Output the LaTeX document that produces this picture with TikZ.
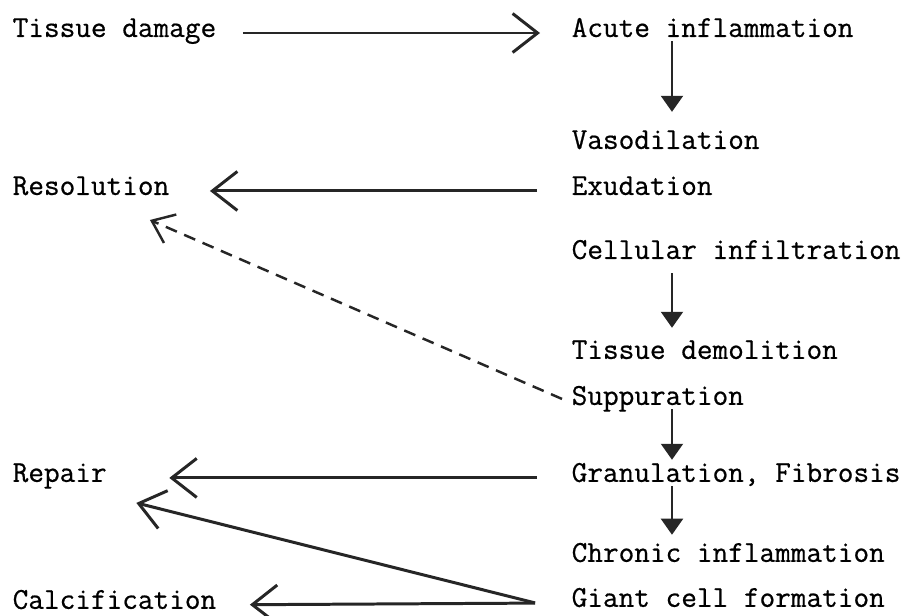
\documentclass[tikz,border=0pt]{standalone}
\usepackage{fontspec}
\usepackage{tikz}
\usetikzlibrary{positioning, arrows.meta}
\newfontfamily\typefont[FakeBold=0.6]{Latin Modern Mono}

\begin{document}
\begin{tikzpicture}[x=0.02cm, y=-0.02cm, thick, text=black,
    lbl/.style={inner sep=0pt, anchor=west, text height=0.65em, text depth=0.2em,
                font=\typefont\fontsize{17.3}{20}\selectfont},
    harrow/.style={line width=1.7pt, draw=black!85, -{Straight Barb[length=0.5cm, width=0.78cm, line width=1.7pt]}},
    varrow/.style={line width=1.2pt, draw=black!85, -{Triangle[length=0.32cm, width=0.44cm]}}]
        \useasboundingbox (0,0) rectangle (915,615);

        % Right column
        \node[lbl] (acute) at (571,33) {Acute inflammation};
        \node[lbl, below=2.24cm of acute.west, anchor=west] (vaso) {Vasodilation};
        \node[lbl, below=0.92cm of vaso.west, anchor=west] (exud) {Exudation};
        \node[lbl, below=1.28cm of exud.west, anchor=west] (cell) {Cellular infiltration};
        \node[lbl, below=2.0cm of cell.west, anchor=west] (demol) {Tissue demolition};
        \node[lbl, below=0.92cm of demol.west, anchor=west] (supp) {Suppuration};
        \node[lbl, below=1.54cm of supp.west, anchor=west] (gran) {Granulation, Fibrosis};
        \node[lbl, below=1.6cm of gran.west, anchor=west] (chronic) {Chronic inflammation};
        \node[lbl, below=0.9cm of chronic.west, anchor=west] (giant) {Giant cell formation};

        % Left column
        \node[lbl] (tissue) at (12,33) {Tissue damage};
        \node[lbl] (resol) at (exud.west -| tissue.west) {Resolution};
        \node[lbl] (repair) at (gran.west -| tissue.west) {Repair};
        \node[lbl, yshift=-0.04cm] (calc) at (giant.west -| tissue.west) {Calcification};

        % Horizontal arrows
        \draw[harrow, shorten <=0.52cm, shorten >=0.62cm] (tissue.east) -- (acute.west);
        \draw[harrow, shorten <=0.68cm, shorten >=0.8cm] (exud.west) -- (resol.east);
        \draw[harrow, shorten <=0.68cm, shorten >=1.24cm] (gran.west) -- (repair.east);
        \draw[harrow, shorten <=0.72cm, shorten >=0.66cm] (giant.west) -- (calc.east);
        \draw[harrow] ([xshift=-0.72cm]giant.west) -- ([xshift=0.58cm, yshift=-0.5cm]repair.east);
        \draw[harrow, line width=1.4pt, dash pattern=on 0.24cm off 0.16cm,
              -{Straight Barb[length=0.4cm, width=0.62cm, line width=1.4pt]}]
              ([xshift=-0.18cm, yshift=0.04cm]supp.west) -- ([xshift=-0.4cm, yshift=-0.58cm]resol.east);

        % Vertical arrows
        \draw[varrow, shorten >=0.5cm] ([xshift=2.02cm]acute.south west) -- ([xshift=2.02cm]vaso.north west);
        \draw[varrow, shorten <=0.2cm, shorten >=0.38cm] ([xshift=2.02cm]cell.south west) -- ([xshift=2.02cm]demol.north west);
        \draw[varrow, shorten >=0.2cm] ([xshift=2.02cm]supp.south west) -- ([xshift=2.02cm]gran.north west);
        \draw[varrow, shorten >=0.3cm] ([xshift=2.02cm]gran.south west) -- ([xshift=2.02cm]chronic.north west);

    \end{tikzpicture}
\end{document}
